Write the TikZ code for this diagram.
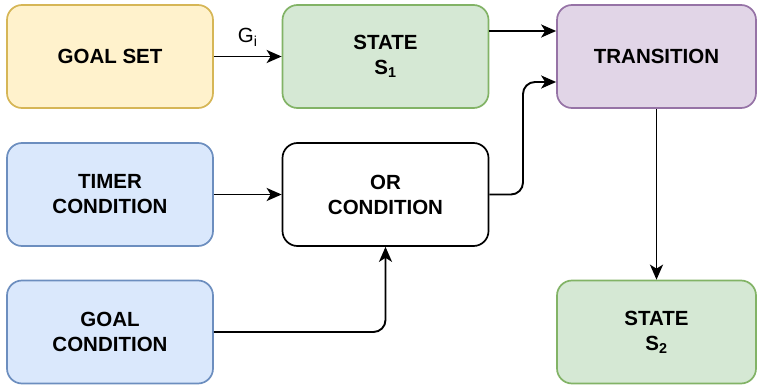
\documentclass[tikz,border=0pt]{standalone}
\usepackage{fontspec}
\setmainfont{Liberation Sans}
\usetikzlibrary{arrows.meta}
\begin{document}
\begin{tikzpicture}[x=1pt,y=-1pt,
  box/.style={draw, rounded corners=15pt, line width=1.7pt, minimum width=206pt, minimum height=103pt, align=center, font=\fontsize{20.5}{25}\selectfont\bfseries, inner sep=0pt},
  yel/.style={box, draw={rgb,255:red,214;green,182;blue,86}, fill={rgb,255:red,255;green,242;blue,204}},
  grn/.style={box, draw={rgb,255:red,130;green,179;blue,102}, fill={rgb,255:red,213;green,232;blue,212}},
  pur/.style={box, draw={rgb,255:red,150;green,115;blue,166}, fill={rgb,255:red,225;green,213;blue,231}},
  blu/.style={box, draw={rgb,255:red,108;green,142;blue,191}, fill={rgb,255:red,218;green,232;blue,252}},
  wht/.style={box, draw=black, fill=white},
  conn/.style={line width=1.9pt, -{Stealth[length=15pt,width=13pt,inset=4pt]}, rounded corners=12pt}]
\useasboundingbox (0,0) rectangle (757,385);
\node[yel] (goalset) at (110,56.5) {GOAL SET};
\node[grn] (s1) at (385.5,56.5) {STATE\\S\textsubscript{1}};
\node[pur, minimum width=199pt] (trans) at (656.5,56.5) {TRANSITION};
\node[blu] (timer) at (110,194.5) {TIMER\\CONDITION};
\node[wht] (or) at (385.5,194.5) {OR\\CONDITION};
\node[blu] (goalc) at (110,332) {GOAL\\CONDITION};
\node[grn, minimum width=199pt] (s2) at (656.5,332) {STATE\\S\textsubscript{2}};
\draw[conn] (goalset.east) -- (s1.west) node[pos=0.5, above=6pt, font=\fontsize{20.5}{25}\selectfont] (gi) {G\textsubscript{i}};
\draw[conn] (s1.east |- 0,31) coordinate (a1) -- (trans.west |- a1);
\draw[conn] (or.east) -| (523,82) coordinate (c1) -- (trans.west |- c1);
\draw[conn] (timer.east) -- (or.west);
\draw[conn] (goalc.east) -| (or.south);
\draw[conn] (trans.south) -- (s2.north);
\end{tikzpicture}
\end{document}
